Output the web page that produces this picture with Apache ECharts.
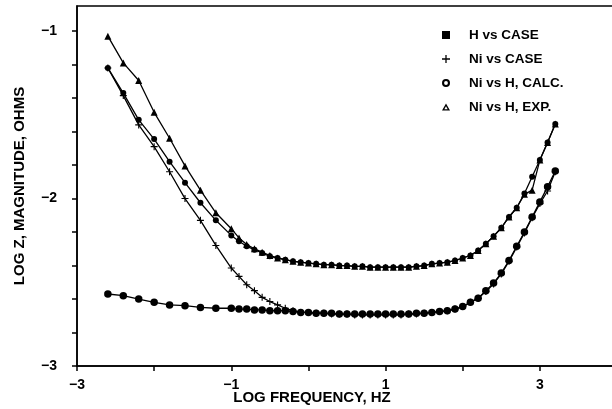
<!DOCTYPE html>
<html>
<head>
<meta charset="utf-8">
<script src="https://cdn.jsdelivr.net/npm/echarts@6/dist/echarts.min.js"></script>
<style>
html,body{margin:0;padding:0;background:#fff;}
#chart{width:612px;height:409px;}
</style>
</head>
<body>
<div id="chart"></div>
<script>
// Log frequency (Hz) sample points
const logFreq = [-2.6,-2.4,-2.2,-2.0,-1.8,-1.6,-1.4,-1.2,-1.0,
  -0.9,-0.8,-0.7,-0.6,-0.5,-0.4,-0.3,-0.2,-0.1,0.0,
  0.1,0.2,0.3,0.4,0.5,0.6,0.7,0.8,0.9,1.0,
  1.1,1.2,1.3,1.4,1.5,1.6,1.7,1.8,1.9,2.0,
  2.1,2.2,2.3,2.4,2.5,2.6,2.7,2.8,2.9,3.0,3.1,3.2];

const hVsCase = [-2.57,-2.58,-2.60,-2.62,-2.635,-2.64,-2.65,-2.655,-2.655,
  -2.66,-2.66,-2.665,-2.665,-2.67,-2.67,-2.67,-2.675,-2.68,-2.68,
  -2.685,-2.685,-2.685,-2.69,-2.69,-2.69,-2.69,-2.69,-2.69,-2.69,
  -2.69,-2.69,-2.69,-2.685,-2.685,-2.68,-2.675,-2.67,-2.66,-2.645,
  -2.62,-2.595,-2.55,-2.505,-2.445,-2.37,-2.285,-2.20,-2.11,-2.02,-1.93,-1.835];

const niVsCase = [-1.22,-1.385,-1.56,-1.69,-1.84,-2.0,-2.13,-2.28,-2.415,
  -2.465,-2.515,-2.55,-2.59,-2.615,-2.635,-2.655,-2.67,-2.68,-2.68,
  -2.685,-2.685,-2.69,-2.69,-2.69,-2.695,-2.695,-2.695,-2.695,-2.695,
  -2.695,-2.695,-2.69,-2.69,-2.685,-2.68,-2.675,-2.67,-2.66,-2.645,
  -2.62,-2.595,-2.555,-2.51,-2.45,-2.375,-2.29,-2.205,-2.115,-2.03,-1.955,-1.84];

const niVsHCalc = [-1.22,-1.37,-1.53,-1.645,-1.78,-1.905,-2.025,-2.13,-2.22,
  -2.255,-2.285,-2.305,-2.325,-2.345,-2.355,-2.365,-2.375,-2.38,-2.385,
  -2.39,-2.395,-2.395,-2.40,-2.40,-2.405,-2.405,-2.41,-2.41,-2.41,
  -2.41,-2.41,-2.41,-2.405,-2.40,-2.39,-2.385,-2.38,-2.37,-2.355,
  -2.34,-2.31,-2.27,-2.225,-2.175,-2.11,-2.055,-1.97,-1.87,-1.77,-1.665,-1.555];

const niVsHExp = [-1.03,-1.19,-1.295,-1.485,-1.64,-1.805,-1.95,-2.085,-2.18,
  -2.235,-2.275,-2.30,-2.32,-2.34,-2.355,-2.365,-2.375,-2.38,-2.385,
  -2.39,-2.395,-2.395,-2.40,-2.40,-2.405,-2.405,-2.41,-2.41,-2.41,
  -2.41,-2.41,-2.41,-2.405,-2.40,-2.39,-2.385,-2.38,-2.37,-2.355,
  -2.34,-2.31,-2.27,-2.225,-2.175,-2.11,-2.055,-1.975,-1.95,-1.77,-1.665,-1.555];

const seriesNames = ['H vs CASE','Ni vs CASE','Ni vs H, CALC.','Ni vs H, EXP.'];
const xTickLabels = [-3,-1,1,3];
const yTickLabels = [-1,-2,-3];

const PLUS = 'path://M4.2,0h1.6v4.2h4.2v1.6h-4.2v4.2h-1.6v-4.2h-4.2v-1.6h4.2z';
const RING = 'path://M5,0A5,5 0 1,0 5,10A5,5 0 1,0 5,0ZM5,2.6A2.4,2.4 0 1,1 5,7.4A2.4,2.4 0 1,1 5,2.6Z';
const TRI_OUTLINE = 'path://M5,0L10,9L0,9ZM5,3.6L2.9,7.3L7.1,7.3Z';
const FONT = 'Liberation Sans';

function pairs(ys){ return logFreq.map((x,i)=>[x, ys[i]]); }
function fmtNum(v, allowed){
  for (const a of allowed){ if (Math.abs(v - a) < 1e-6) return (a < 0 ? '\u2212' : '') + Math.abs(a); }
  return '';
}

const chart = echarts.init(document.getElementById('chart'), null, {renderer:'canvas'});

function lineSeries(name, data, symbol, size){
  return {
    name, type:'line', data: pairs(data),
    symbol, symbolSize: size, showSymbol:true,
    lineStyle:{color:'#000', width:1.3},
    itemStyle:{color:'#000', borderColor:'#000', borderWidth:0},
    animation:false, silent:true
  };
}

chart.setOption({
  animation:false,
  backgroundColor:'#fff',
  grid:{left:77, top:6, right:-5, bottom:43, outerBoundsMode:'none', containLabel:false,
    show:true, borderColor:'#000', borderWidth:1.5, backgroundColor:'transparent'},
  xAxis:{
    type:'value', min:-3, max:4, interval:1,
    name:'LOG FREQUENCY, HZ', nameLocation:'middle', nameGap:24, nameMoveOverlap:false,
    nameTextStyle:{fontFamily:FONT, fontWeight:'bold', fontSize:15, color:'#000', padding:[0,70,0,0]},
    axisLine:{show:true, onZero:false, lineStyle:{color:'#000', width:1.5}},
    axisTick:{show:true, inside:false, length:5, lineStyle:{color:'#000', width:1.5}},
    axisLabel:{margin:12, fontFamily:FONT, fontWeight:'bold', fontSize:14, color:'#000',
      formatter:v=>fmtNum(v, xTickLabels)},
    splitLine:{show:false}
  },
  yAxis:{
    type:'value', min:-3, max:-0.85, interval:0.2,
    name:'LOG Z, MAGNITUDE, OHMS', nameLocation:'middle', nameGap:50, nameRotate:90, nameMoveOverlap:false,
    nameTextStyle:{fontFamily:FONT, fontWeight:'bold', fontSize:15, color:'#000'},
    axisLine:{show:true, onZero:false, lineStyle:{color:'#000', width:1.5}},
    axisTick:{show:true, inside:false, length:5, lineStyle:{color:'#000', width:1.5}},
    axisLabel:{margin:20, fontFamily:FONT, fontWeight:'bold', fontSize:14, color:'#000',
      formatter:v=>fmtNum(v, yTickLabels), showMaxLabel:false},
    splitLine:{show:false}
  },
  legend:{
    orient:'vertical', left:437, top:23, itemWidth:8, itemHeight:8, itemGap:10,
    textStyle:{fontFamily:FONT, fontWeight:'bold', fontSize:13.5, color:'#000', padding:[0,0,0,14]},
    data:[
      {name:seriesNames[0], icon:'rect', itemStyle:{color:'#000', borderWidth:0}},
      {name:seriesNames[1], icon:PLUS, itemStyle:{color:'#000', borderWidth:0}},
      {name:seriesNames[2], icon:RING, itemStyle:{color:'#000', borderWidth:0}},
      {name:seriesNames[3], icon:TRI_OUTLINE, itemStyle:{color:'#000', borderWidth:0}}
    ],
    selectedMode:false
  },
  series:[
    lineSeries(seriesNames[0], hVsCase, 'circle', 7.5),
    lineSeries(seriesNames[1], niVsCase, PLUS, 7),
    lineSeries(seriesNames[2], niVsHCalc, 'circle', 6),
    lineSeries(seriesNames[3], niVsHExp, 'triangle', 7)
  ]
});
</script>
</body>
</html>
